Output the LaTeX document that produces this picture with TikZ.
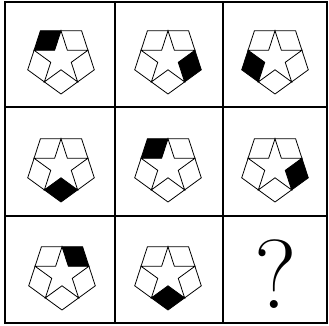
\documentclass[tikz,border=0pt]{standalone}
\usetikzlibrary{positioning}

\begin{document}
\begin{tikzpicture}[x=1pt, y=1pt,
  grid/.style={line width=1.8pt},
  fig/.style={line width=0.8pt, line join=miter},
  blk/.style={fill=black},
  pics/pent/.style={code={
    % shaded rhombus at the pentagon corner #1
    \fill[blk] (#1:35) -- (#1+36:28.3) -- (#1:10.8) -- (#1-36:28.3) -- cycle;
    \draw[fig] (126:35) -- (54:35) -- (-18:35) -- (-90:35) -- (198:35) -- cycle;
    \draw[fig] (90:28.3) -- (54:10.8) -- (18:28.3) -- (-18:10.8) -- (-54:28.3)
      -- (-90:10.8) -- (-126:28.3) -- (198:10.8) -- (162:28.3) -- (126:10.8) -- cycle;
  }}]

  \useasboundingbox (0,0) rectangle (329,325);

  % grid
  \draw[grid] (5,2) rectangle (327,323);
  \foreach \gx in {115,223}
    \draw[grid] (\gx,2) -- (\gx,323);
  \foreach \gy in {109,218}
    \draw[grid] (5,\gy) -- (327,\gy);

  % figures
  \foreach \a/\cx/\cy in {126/61/266, -18/168/266, 198/275/266,
                          -90/61/158, 126/168/158, -18/275/158,
                          54/62/50, -90/168/50}
    \pic at (\cx,\cy) {pent=\a};

  \node[inner sep=0pt, font=\fontsize{98}{98}\selectfont] (q) at (276,51) {?};
\end{tikzpicture}
\end{document}
